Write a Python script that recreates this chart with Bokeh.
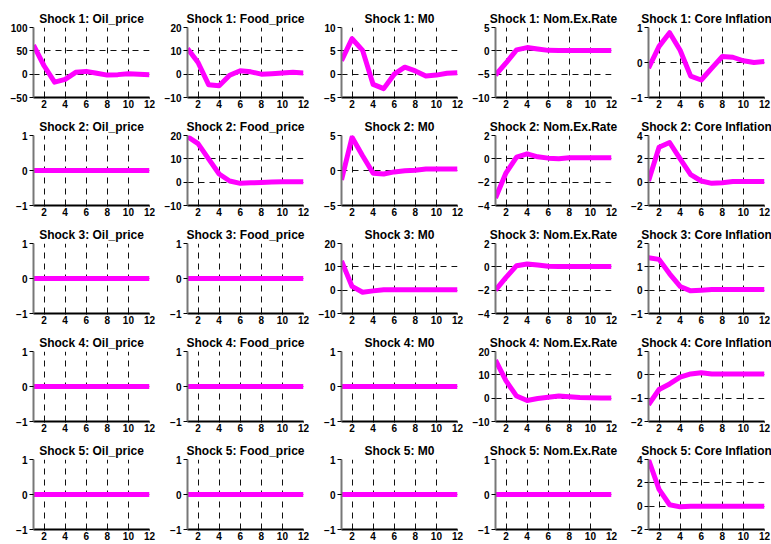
from bokeh.plotting import figure
from bokeh.layouts import gridplot
from bokeh.models import Range1d, FixedTicker
from bokeh.embed import file_html
from bokeh.resources import INLINE

periods = [1, 2, 3, 4, 5, 6, 7, 8, 9, 10, 11, 12]
x_ticks = [2, 4, 6, 8, 10, 12]
shock_labels = ["Shock 1", "Shock 2", "Shock 3", "Shock 4", "Shock 5"]
variables = ["Oil_price", "Food_price", "M0", "Nom.Ex.Rate", "Core Inflation"]

flat = [0, 0, 0, 0, 0, 0, 0, 0, 0, 0, 0, 0]

s1_oil = [62, 18, -17, -11, 4, 6, 2, -2, -1, 1, 0, -1]
s1_food = [11, 5, -4.5, -5, -0.5, 1.5, 1, 0, 0.2, 0.5, 0.8, 0.5]
s1_m0 = [2.9, 7.6, 5.1, -2.2, -3.1, 0, 1.5, 0.7, -0.4, -0.2, 0.2, 0.3]
s1_ner = [-5.2, -2.6, 0.2, 0.7, 0.4, 0.1, 0.05, 0.05, 0.05, 0.05, 0.05, 0.05]
s1_core = [-0.16, 0.46, 0.85, 0.35, -0.39, -0.5, -0.16, 0.17, 0.15, 0.05, 0.0, 0.03]

s2_oil = flat
s2_food = [19.5, 16.5, 10, 3.5, 0.5, -0.5, -0.3, -0.1, 0.1, 0.2, 0.2, 0.2]
s2_m0 = [-1.35, 4.75, 2.1, -0.4, -0.5, -0.2, -0.05, 0.05, 0.2, 0.2, 0.2, 0.2]
s2_ner = [-3.35, -1.2, 0.15, 0.43, 0.17, 0.06, 0.0, 0.1, 0.1, 0.1, 0.1, 0.1]
s2_core = [0.1, 3.0, 3.4, 2.0, 0.65, 0.1, -0.1, -0.05, 0.05, 0.05, 0.05, 0.05]

s3_oil = flat
s3_food = flat
s3_m0 = [12.5, 1.6, -0.9, -0.3, 0.2, 0.2, 0.2, 0.2, 0.2, 0.2, 0.2, 0.2]
s3_ner = [-2.0, -0.9, 0.1, 0.25, 0.15, 0.05, 0.02, 0.02, 0.02, 0.02, 0.02, 0.02]
s3_core = [1.39, 1.32, 0.7, 0.16, -0.03, 0.0, 0.03, 0.03, 0.03, 0.03, 0.03, 0.03]

s4_oil = flat
s4_food = flat
s4_m0 = flat
s4_ner = [16.3, 7.4, 0.9, -1.0, -0.15, 0.4, 0.9, 0.6, 0.3, 0.2, 0.1, 0.1]
s4_core = [-1.28, -0.63, -0.39, -0.1, 0.04, 0.09, 0.04, 0.04, 0.04, 0.04, 0.04, 0.04]

s5_oil = flat
s5_food = flat
s5_m0 = flat
s5_ner = flat
s5_core = [4.0, 1.44, 0.12, -0.06, 0, 0, 0, 0, 0, 0, 0, 0]

responses = [
    [s1_oil, s1_food, s1_m0, s1_ner, s1_core],
    [s2_oil, s2_food, s2_m0, s2_ner, s2_core],
    [s3_oil, s3_food, s3_m0, s3_ner, s3_core],
    [s4_oil, s4_food, s4_m0, s4_ner, s4_core],
    [s5_oil, s5_food, s5_m0, s5_ner, s5_core],
]

y_ticks = [
    [[-50, 0, 50, 100], [-10, 0, 10, 20], [-5, 0, 5, 10], [-10, -5, 0, 5], [-1, 0, 1]],
    [[-1, 0, 1], [-10, 0, 10, 20], [-5, 0, 5], [-4, -2, 0, 2], [-2, 0, 2, 4]],
    [[-1, 0, 1], [-1, 0, 1], [-10, 0, 10, 20], [-4, -2, 0, 2], [-1, 0, 1, 2]],
    [[-1, 0, 1], [-1, 0, 1], [-1, 0, 1], [-10, 0, 10, 20], [-2, -1, 0, 1]],
    [[-1, 0, 1], [-1, 0, 1], [-1, 0, 1], [-1, 0, 1], [-2, 0, 2, 4]],
]

FONT = "Liberation Sans"
left_b = [33, 25, 25, 25, 25]
right_b = [12, 12, 12, 12, 9]
top_b = [27, 20, 20, 20, 20]
bottom_b = [18, 18, 18, 18, 15]

rows = []
for i in range(5):
    row = []
    for j in range(5):
        ticks = y_ticks[i][j]
        p = figure(
            output_backend="svg", toolbar_location=None,
            frame_width=116, frame_height=70,
            min_border_left=left_b[j], min_border_right=right_b[j],
            min_border_top=top_b[i], min_border_bottom=bottom_b[i],
            x_range=Range1d(1, 12), y_range=Range1d(ticks[0], ticks[-1]),
            title=f"{shock_labels[i]}: {variables[j]}",
        )
        p.title.align = "center"
        p.title.text_font = FONT
        p.title.text_font_size = "12px"
        p.title.text_font_style = "bold"
        p.title.text_color = "black"
        p.title.standoff = 3
        p.title.offset = 0
        p.outline_line_color = None
        p.background_fill_color = "white"
        p.border_fill_color = "white"

        p.xaxis.ticker = FixedTicker(ticks=x_ticks)
        p.yaxis.ticker = FixedTicker(ticks=ticks)
        for ax in (p.xaxis[0], p.yaxis[0]):
            ax.major_label_text_font = FONT
            ax.major_label_text_font_size = "10px"
            ax.major_label_text_font_style = "bold"
            ax.major_label_text_color = "black"
            ax.minor_tick_line_color = None
            ax.major_tick_in = 0
            ax.major_tick_line_color = "black"
        p.xaxis.major_tick_out = 1
        p.xaxis.major_label_standoff = 1
        p.yaxis.major_tick_out = 4
        p.yaxis.major_label_standoff = 2
        p.yaxis.axis_line_color = "#777777"
        p.yaxis.axis_line_width = 2
        p.xaxis.axis_line_color = "black"
        p.xaxis.axis_line_width = 2

        for g in (p.xgrid[0], p.ygrid[0]):
            g.grid_line_color = "#111111"
            g.grid_line_dash = "6 5"
            g.grid_line_width = 1

        p.line(periods, responses[i][j], line_color="#FF00FF", line_width=5,
               line_join="round")
        row.append(p)
    rows.append(row)

grid = gridplot(rows, toolbar_location=None)
open("out.html", "w").write(file_html(grid, INLINE))
